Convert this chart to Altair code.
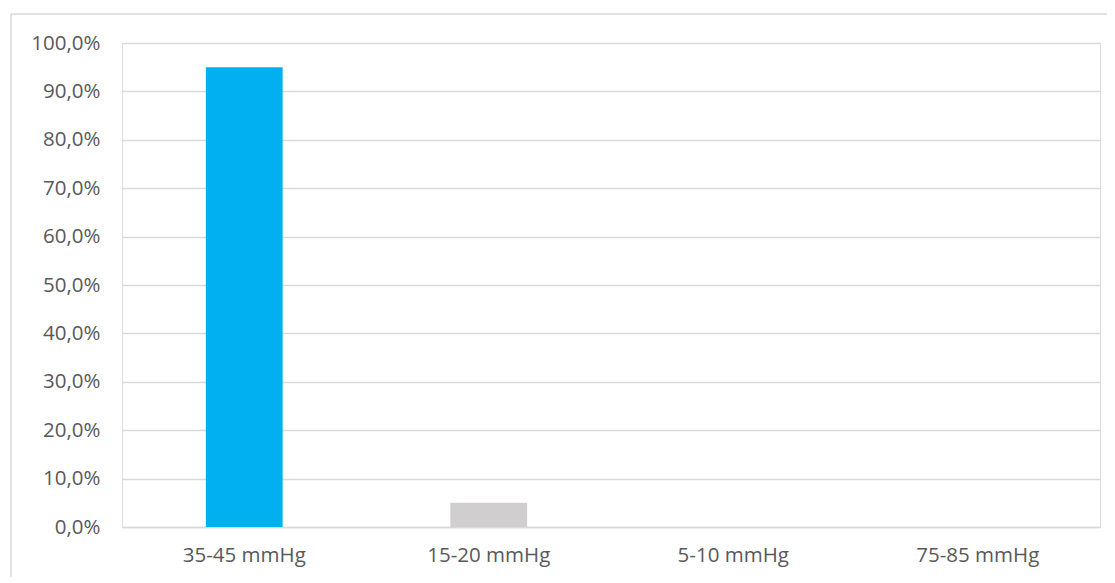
import altair as alt
import pandas as pd

categories = ["35-45 mmHg", "15-20 mmHg", "5-10 mmHg", "75-85 mmHg"]
values = [0.95, 0.05, 0.0, 0.0]
colors = ["#00B0F0", "#D0CECE", "#D0CECE", "#D0CECE"]
y_ticks = [i / 10 for i in range(11)]

df = pd.DataFrame({"cat": categories, "val": values, "col": colors})

FONT = "Open Sans"

bars = alt.Chart(df).mark_bar().encode(
    x=alt.X("cat:N", sort=categories,
            scale=alt.Scale(paddingInner=0.686, paddingOuter=0.343),
            axis=alt.Axis(title=None, labelAngle=0, ticks=False, domain=True,
                          domainColor="#D9D9D9", domainWidth=1.5,
                          labelFont=FONT, labelFontSize=20.5, labelColor="#595959",
                          labelPadding=18, grid=False)),
    y=alt.Y("val:Q", scale=alt.Scale(domain=[0, 1], nice=False),
            axis=alt.Axis(title=None, values=y_ticks, ticks=False, domain=False,
                          labelExpr="replace(format(datum.value, '.1%'), '.', ',')",
                          labelFont=FONT, labelFontSize=20.5, labelColor="#595959",
                          labelPadding=22, gridColor="#D9D9D9", gridWidth=1.5)),
    color=alt.Color("col:N", scale=None, legend=None),
)

one = pd.DataFrame({"a": [0]})
top_line = alt.Chart(one).mark_rule(color="#D9D9D9", strokeWidth=1.5).encode(
    x=alt.value(-111), x2=alt.value(990), y=alt.value(-29)
)
left_line = alt.Chart(one).mark_rule(color="#D9D9D9", strokeWidth=1.5).encode(
    x=alt.value(-111), y=alt.value(-29), y2=alt.value(700)
)

chart = alt.layer(top_line, left_line, bars).properties(
    width=978, height=484,
    autosize=alt.AutoSizeParams(type="none"),
    padding={"left": 114, "top": 35, "right": 7, "bottom": 50},
).configure_view(stroke=None).configure(background="white")

chart.save("out.html", embed_options={"renderer": "svg", "actions": False})
